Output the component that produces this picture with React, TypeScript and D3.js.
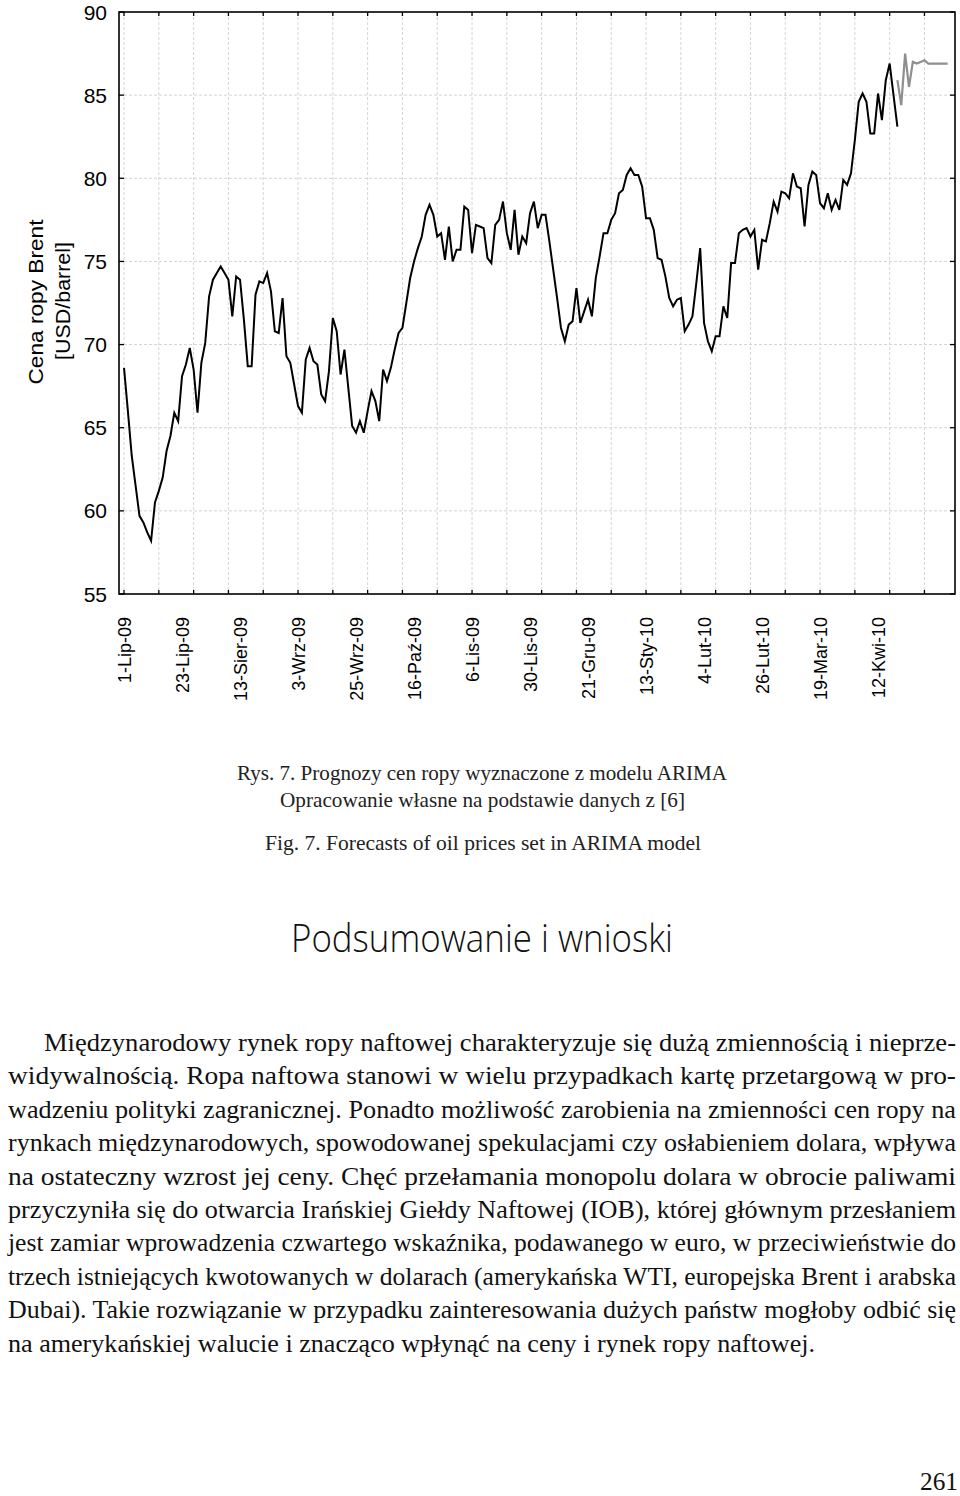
import React from "react";
import * as d3 from "d3";

// Brent price (USD/barrel), daily observations from 1-Lip-09
const brent: number[] = [
  68.6, 66.0, 63.3, 61.5, 59.7, 59.3, 58.7, 58.2, 60.5, 61.2,
  62.0, 63.6, 64.5, 65.9, 65.4, 68.1, 68.8, 69.8, 68.5, 65.9,
  68.9, 70.1, 72.9, 73.9, 74.3, 74.7, 74.3, 73.9, 71.7, 74.1,
  73.9, 71.5, 68.7, 68.7, 73.0, 73.8, 73.7, 74.3, 73.2, 70.8,
  70.7, 72.8, 69.3, 68.9, 67.6, 66.3, 65.9, 69.1, 69.8, 69.0,
  68.8, 67.0, 66.6, 68.4, 71.6, 70.8, 68.2, 69.7, 67.4, 65.1,
  64.7, 65.4, 64.7, 66.0, 67.2, 66.6, 65.4, 68.5, 67.8, 68.6,
  69.7, 70.7, 71.0, 72.5, 74.0, 75.0, 75.8, 76.5, 77.8, 78.4,
  77.8, 76.5, 76.7, 75.1, 77.1, 75.0, 75.7, 75.7, 78.3, 78.1,
  75.5, 77.2, 77.1, 77.0, 75.2, 74.9, 77.2, 77.5, 78.6, 76.7,
  75.7, 78.1, 75.4, 76.5, 76.1, 77.9, 78.6, 77.0, 77.8, 77.8,
  76.2, 74.5, 72.8, 71.0, 70.2, 71.2, 71.4, 73.4, 71.3, 72.0,
  72.7, 71.7, 74.0, 75.3, 76.7, 76.7, 77.5, 77.9, 79.1, 79.3,
  80.2, 80.6, 80.2, 80.2, 79.5, 77.6, 77.6, 76.9, 75.2, 75.1,
  74.1, 72.8, 72.3, 72.7, 72.8, 70.8, 71.2, 71.7, 73.7, 75.8,
  71.3, 70.2, 69.6, 70.5, 70.5, 72.3, 71.6, 74.9, 74.9, 76.7,
  76.9, 77.0, 76.5, 76.9, 74.5, 76.3, 76.2, 77.3, 78.6, 78.0,
  79.2, 79.1, 78.8, 80.3, 79.5, 79.4, 77.1, 79.6, 80.4, 80.2,
  78.5, 78.2, 79.1, 78.1, 78.7, 78.1, 79.9, 79.6, 80.3, 82.3,
  84.6, 85.1, 84.6, 82.7, 82.7, 85.1, 83.5, 85.9, 86.9, 85.0,
  83.1,
];

// ARIMA forecast (grey), starting at observation 200
const forecastStart = 200;
const forecast: number[] = [
  85.9, 84.4, 87.5, 85.5, 87.0, 86.9, 87.0, 87.1, 86.9, 86.9,
  86.9, 86.9, 86.9, 86.9,
];

const xLabels: string[] = [
  "1-Lip-09", "23-Lip-09", "13-Sier-09", "3-Wrz-09", "25-Wrz-09", "16-Paź-09",
  "6-Lis-09", "30-Lis-09", "21-Gru-09", "13-Sty-10", "4-Lut-10", "26-Lut-10",
  "19-Mar-10", "12-Kwi-10",
];
const labelStep = 15;
const tickStep = 9;
const yTicks: number[] = [55, 60, 65, 70, 75, 80, 85, 90];

const yTitle: string[] = ["Cena ropy Brent", "[USD/barrel]"];

const captionLines: string[] = [
  "Rys. 7. Prognozy cen ropy wyznaczone z modelu ARIMA",
  "Opracowanie własne na podstawie danych z [6]",
  "Fig. 7. Forecasts of oil prices set in ARIMA model",
];
const heading = "Podsumowanie i wnioski";
const paragraph: string[] = [
  "Międzynarodowy rynek ropy naftowej charakteryzuje się dużą zmiennością i nieprze-",
  "widywalnością. Ropa naftowa stanowi w wielu przypadkach kartę przetargową w pro-",
  "wadzeniu polityki zagranicznej. Ponadto możliwość zarobienia na zmienności cen ropy na",
  "rynkach międzynarodowych, spowodowanej spekulacjami czy osłabieniem dolara, wpływa",
  "na ostateczny wzrost jej ceny. Chęć przełamania monopolu dolara w obrocie paliwami",
  "przyczyniła się do otwarcia Irańskiej Giełdy Naftowej (IOB), której głównym przesłaniem",
  "jest zamiar wprowadzenia czwartego wskaźnika, podawanego w euro, w przeciwieństwie do",
  "trzech istniejących kwotowanych w dolarach (amerykańska WTI, europejska Brent i arabska",
  "Dubai). Takie rozwiązanie w przypadku zainteresowania dużych państw mogłoby odbić się",
  "na amerykańskiej walucie i znacząco wpłynąć na ceny i rynek ropy naftowej.",
];
const pageNumber = "261";

export default function App() {
  const W = 960;
  const H = 1496;
  const left = 119, right = 955, top = 12, bottom = 594;

  const x = d3.scaleLinear().domain([-1.3, 214.9]).range([left, right]);
  const y = d3.scaleLinear().domain([55, 90]).range([bottom, top]);

  const line = d3
    .line<number>()
    .x((_, i) => x(i))
    .y((d) => y(d));
  const fLine = d3
    .line<number>()
    .x((_, i) => x(forecastStart + i))
    .y((d) => y(d));

  const xTicks = d3.range(0, 214, tickStep);
  const sans = "'Liberation Sans', Arial, sans-serif";
  const serif = "'Liberation Serif', 'Times New Roman', serif";

  const paraX0 = 8, paraX1 = 956;
  const paraBase = 1051;
  const paraStep = 33.4;

  return (
    <svg
      width={W}
      height={H}
      viewBox={`0 0 ${W} ${H}`}
      style={{ position: "absolute", left: 0, top: 0, background: "#fff" }}
    >
      <rect x={0} y={0} width={W} height={H} fill="#fff" />
      {/* grid */}
      <g stroke="#d4d4d4" strokeWidth={1} strokeDasharray="3,2">
        {xTicks.map((t) => (
          <line key={"gx" + t} x1={x(t)} x2={x(t)} y1={top} y2={bottom} />
        ))}
        {yTicks.slice(1, -1).map((t) => (
          <line key={"gy" + t} x1={left} x2={right} y1={y(t)} y2={y(t)} />
        ))}
      </g>
      {/* series */}
      <path d={line(brent) || ""} fill="none" stroke="#000" strokeWidth={2} strokeLinejoin="miter" />
      <path d={fLine(forecast) || ""} fill="none" stroke="#8f8f8f" strokeWidth={2.2} />
      {/* frame */}
      <rect x={left} y={top} width={right - left} height={bottom - top} fill="none" stroke="#000" strokeWidth={1.6} />
      {/* ticks */}
      <g stroke="#000" strokeWidth={1.3}>
        {xTicks.map((t) => (
          <g key={"tx" + t}>
            <line x1={x(t)} x2={x(t)} y1={top} y2={top + 4} />
            <line x1={x(t)} x2={x(t)} y1={bottom} y2={bottom - 4} />
          </g>
        ))}
        {yTicks.map((t) => (
          <g key={"ty" + t}>
            <line x1={left} x2={left + 5} y1={y(t)} y2={y(t)} />
            <line x1={right} x2={right - 5} y1={y(t)} y2={y(t)} />
          </g>
        ))}
      </g>
      {/* y tick labels */}
      <g fontFamily={sans} fontSize={21} fill="#000">
        {yTicks.map((t) => (
          <text key={"yl" + t} x={107} y={y(t)} dy="0.36em" textAnchor="end">
            {t}
          </text>
        ))}
      </g>
      {/* x labels */}
      <g fontFamily={sans} fontSize={18} fill="#000">
        {xLabels.map((lab, k) => {
          const px = x(k * labelStep);
          return (
            <text
              key={lab}
              transform={`translate(${px},617) rotate(-90)`}
              textAnchor="end"
              dy="0.36em"
            >
              {lab}
            </text>
          );
        })}
      </g>
      {/* y axis title */}
      <g fontFamily={sans} fontSize={21} fill="#000">
        <text transform="translate(35,302) rotate(-90)" textAnchor="middle" dy="0.36em" textLength={165} lengthAdjust="spacingAndGlyphs">
          {yTitle[0]}
        </text>
        <text transform="translate(62,301) rotate(-90)" textAnchor="middle" dy="0.36em" textLength={118} lengthAdjust="spacingAndGlyphs">
          {yTitle[1]}
        </text>
      </g>
      {/* captions */}
      <g fontFamily={serif} fontSize={22} fill="#222">
        <text x={237} y={780} textLength={490} lengthAdjust="spacingAndGlyphs">{captionLines[0]}</text>
        <text x={280} y={807} textLength={405} lengthAdjust="spacingAndGlyphs">{captionLines[1]}</text>
        <text x={265} y={850} textLength={436} lengthAdjust="spacingAndGlyphs">{captionLines[2]}</text>
      </g>
      <text x={291} y={952} fontFamily="'Open Sans', sans-serif" fontWeight={300} fontSize={39} fill="#111" textLength={382} lengthAdjust="spacingAndGlyphs">
        {heading}
      </text>
      <g fontFamily={serif} fontSize={25} fill="#111">
        {paragraph.map((ln, k) => {
          const x0 = k === 0 ? 44 : paraX0;
          const x1 = k === paragraph.length - 1 ? 815 : paraX1;
          return (
            <text key={k} x={x0} y={paraBase + k * paraStep} textLength={x1 - x0} lengthAdjust="spacingAndGlyphs">
              {ln}
            </text>
          );
        })}
      </g>
      <text x={958} y={1490} textAnchor="end" fontFamily={serif} fontSize={26} fill="#111" textLength={38} lengthAdjust="spacingAndGlyphs">
        {pageNumber}
      </text>
    </svg>
  );
}
